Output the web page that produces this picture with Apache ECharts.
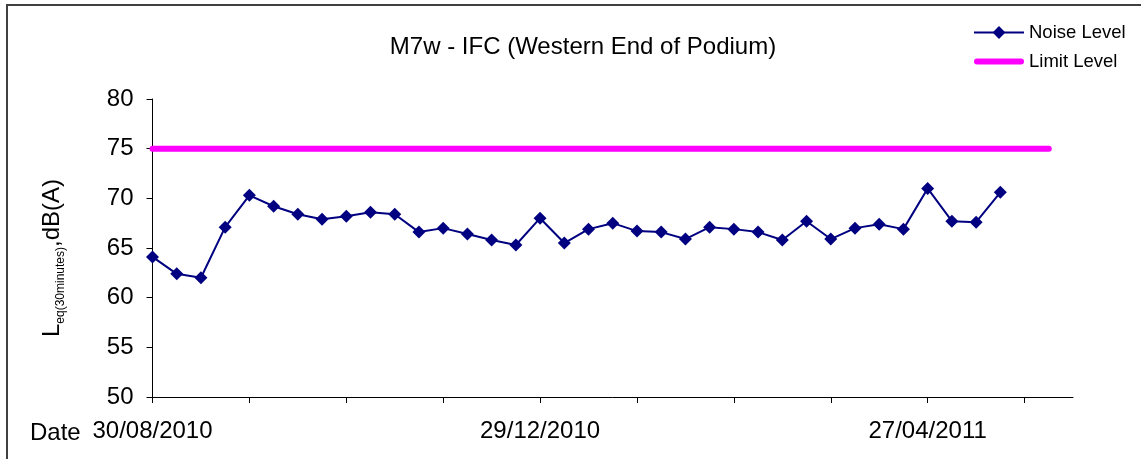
<!DOCTYPE html>
<html>
<head>
<meta charset="utf-8">
<script src="https://cdn.jsdelivr.net/npm/echarts@6/dist/echarts.min.js"></script>
<style>
  html, body { margin: 0; padding: 0; background: #fff; }
  #chart { width: 1141px; height: 459px; }
</style>
</head>
<body>
<div id="chart"></div>
<script>
// survey dates (only 30/08/2010, 29/12/2010 and 27/04/2011 are labelled)
const dates = [
  '30/08/2010', '06/09/2010', '14/09/2010', '21/09/2010', '29/09/2010', '06/10/2010',
  '14/10/2010', '21/10/2010', '29/10/2010', '05/11/2010', '13/11/2010', '20/11/2010',
  '28/11/2010', '05/12/2010', '13/12/2010', '20/12/2010', '29/12/2010', '05/01/2011',
  '13/01/2011', '20/01/2011', '28/01/2011', '04/02/2011', '12/02/2011', '19/02/2011',
  '27/02/2011', '06/03/2011', '14/03/2011', '21/03/2011', '29/03/2011', '05/04/2011',
  '12/04/2011', '20/04/2011', '27/04/2011', '05/05/2011', '12/05/2011', '20/05/2011',
  '27/05/2011', '04/06/2011', '11/06/2011'
]
const noiseLevel = [
  64.1, 62.4, 62.0, 67.1, 70.3, 69.2, 68.4, 67.9, 68.2, 68.6, 68.4, 66.6,
  67.0, 66.4, 65.8, 65.3, 68.0, 65.5, 66.9, 67.5, 66.7, 66.6, 65.9, 67.1,
  66.9, 66.6, 65.8, 67.7, 65.9, 67.0, 67.4, 66.9, 71.0, 67.7, 67.6, 70.6
]
const limitLevel = [
  75, 75, 75, 75, 75, 75, 75, 75, 75, 75, 75, 75, 75, 75, 75, 75, 75, 75, 75,
  75, 75, 75, 75, 75, 75, 75, 75, 75, 75, 75, 75, 75, 75, 75, 75, 75, 75, 75
]
const yTicks = { min: 50, max: 80, step: 5 }

const font = "'Liberation Sans', Arial, sans-serif"
const chart = echarts.init(document.getElementById('chart'))
chart.setOption({
  animation: false,
  textStyle: { fontFamily: font },
  title: {
    text: 'M7w - IFC (Western End of Podium)',
    left: 578, top: 30, textAlign: 'center',
    textStyle: { fontFamily: font, fontSize: 24, fontWeight: 'normal', color: '#000' }
  },
  legend: {
    orient: 'vertical',
    left: 973, top: 23,
    padding: 0,
    itemWidth: 50, itemHeight: 16, itemGap: 10,
    textStyle: { fontFamily: font, fontSize: 18.5, color: '#000' },
    data: [
      { name: 'Noise Level' },
      { name: 'Limit Level', icon: 'path://M3,0 L47,0 A3,3 0 0 1 47,6 L3,6 A3,3 0 0 1 3,0 Z' }
    ]
  },
  grid: { left: 152.5, top: 99, right: 68, bottom: 62, containLabel: false },
  xAxis: {
    type: 'category',
    data: dates,
    boundaryGap: false,
    axisLine: { lineStyle: { color: '#000', width: 1 } },
    axisTick: { interval: 3, length: 6, lineStyle: { color: '#000' } },
    axisLabel: { interval: 15, margin: 22, fontSize: 24, color: '#000', fontFamily: font },
    splitLine: { show: false }
  },
  yAxis: {
    type: 'value',
    min: yTicks.min, max: yTicks.max, interval: yTicks.step,
    name: '{m|L}{s|eq(30minutes)}{m|,dB(A)}',
    nameLocation: 'middle',
    nameRotate: 90,
    nameGap: 86,
    nameTextStyle: {
      padding: [0, 20, 0, 0],
      rich: {
        m: { fontSize: 24, fontFamily: font, color: '#000', lineHeight: 28 },
        s: { fontSize: 12, fontFamily: font, color: '#000', verticalAlign: 'bottom', lineHeight: 28 }
      }
    },
    axisLine: { show: true, lineStyle: { color: '#000', width: 1 } },
    axisTick: { show: true, length: 6, lineStyle: { color: '#000' } },
    axisLabel: { margin: 19, fontSize: 24, color: '#000', fontFamily: font },
    splitLine: { show: false }
  },
  series: [
    {
      name: 'Noise Level',
      type: 'line',
      data: noiseLevel,
      symbol: 'diamond',
      symbolSize: 13,
      color: '#000080',
      lineStyle: { color: '#000080', width: 2 },
      itemStyle: { color: '#000080' }
    },
    {
      name: 'Limit Level',
      type: 'line',
      data: limitLevel,
      showSymbol: false,
      symbol: 'none',
      color: '#ff00ff',
      lineStyle: { color: '#ff00ff', width: 6, cap: 'round' }
    }
  ],
  graphic: [
    {
      type: 'rect',
      shape: { x: 7, y: 5, width: 1200, height: 500 },
      style: { fill: 'none', stroke: '#404040', lineWidth: 2 },
      silent: true
    },
    {
      type: 'text',
      left: 30, top: 421,
      style: { text: 'Date', fontSize: 24, fontFamily: font, fill: '#000' }
    }
  ]
})
</script>
</body>
</html>
